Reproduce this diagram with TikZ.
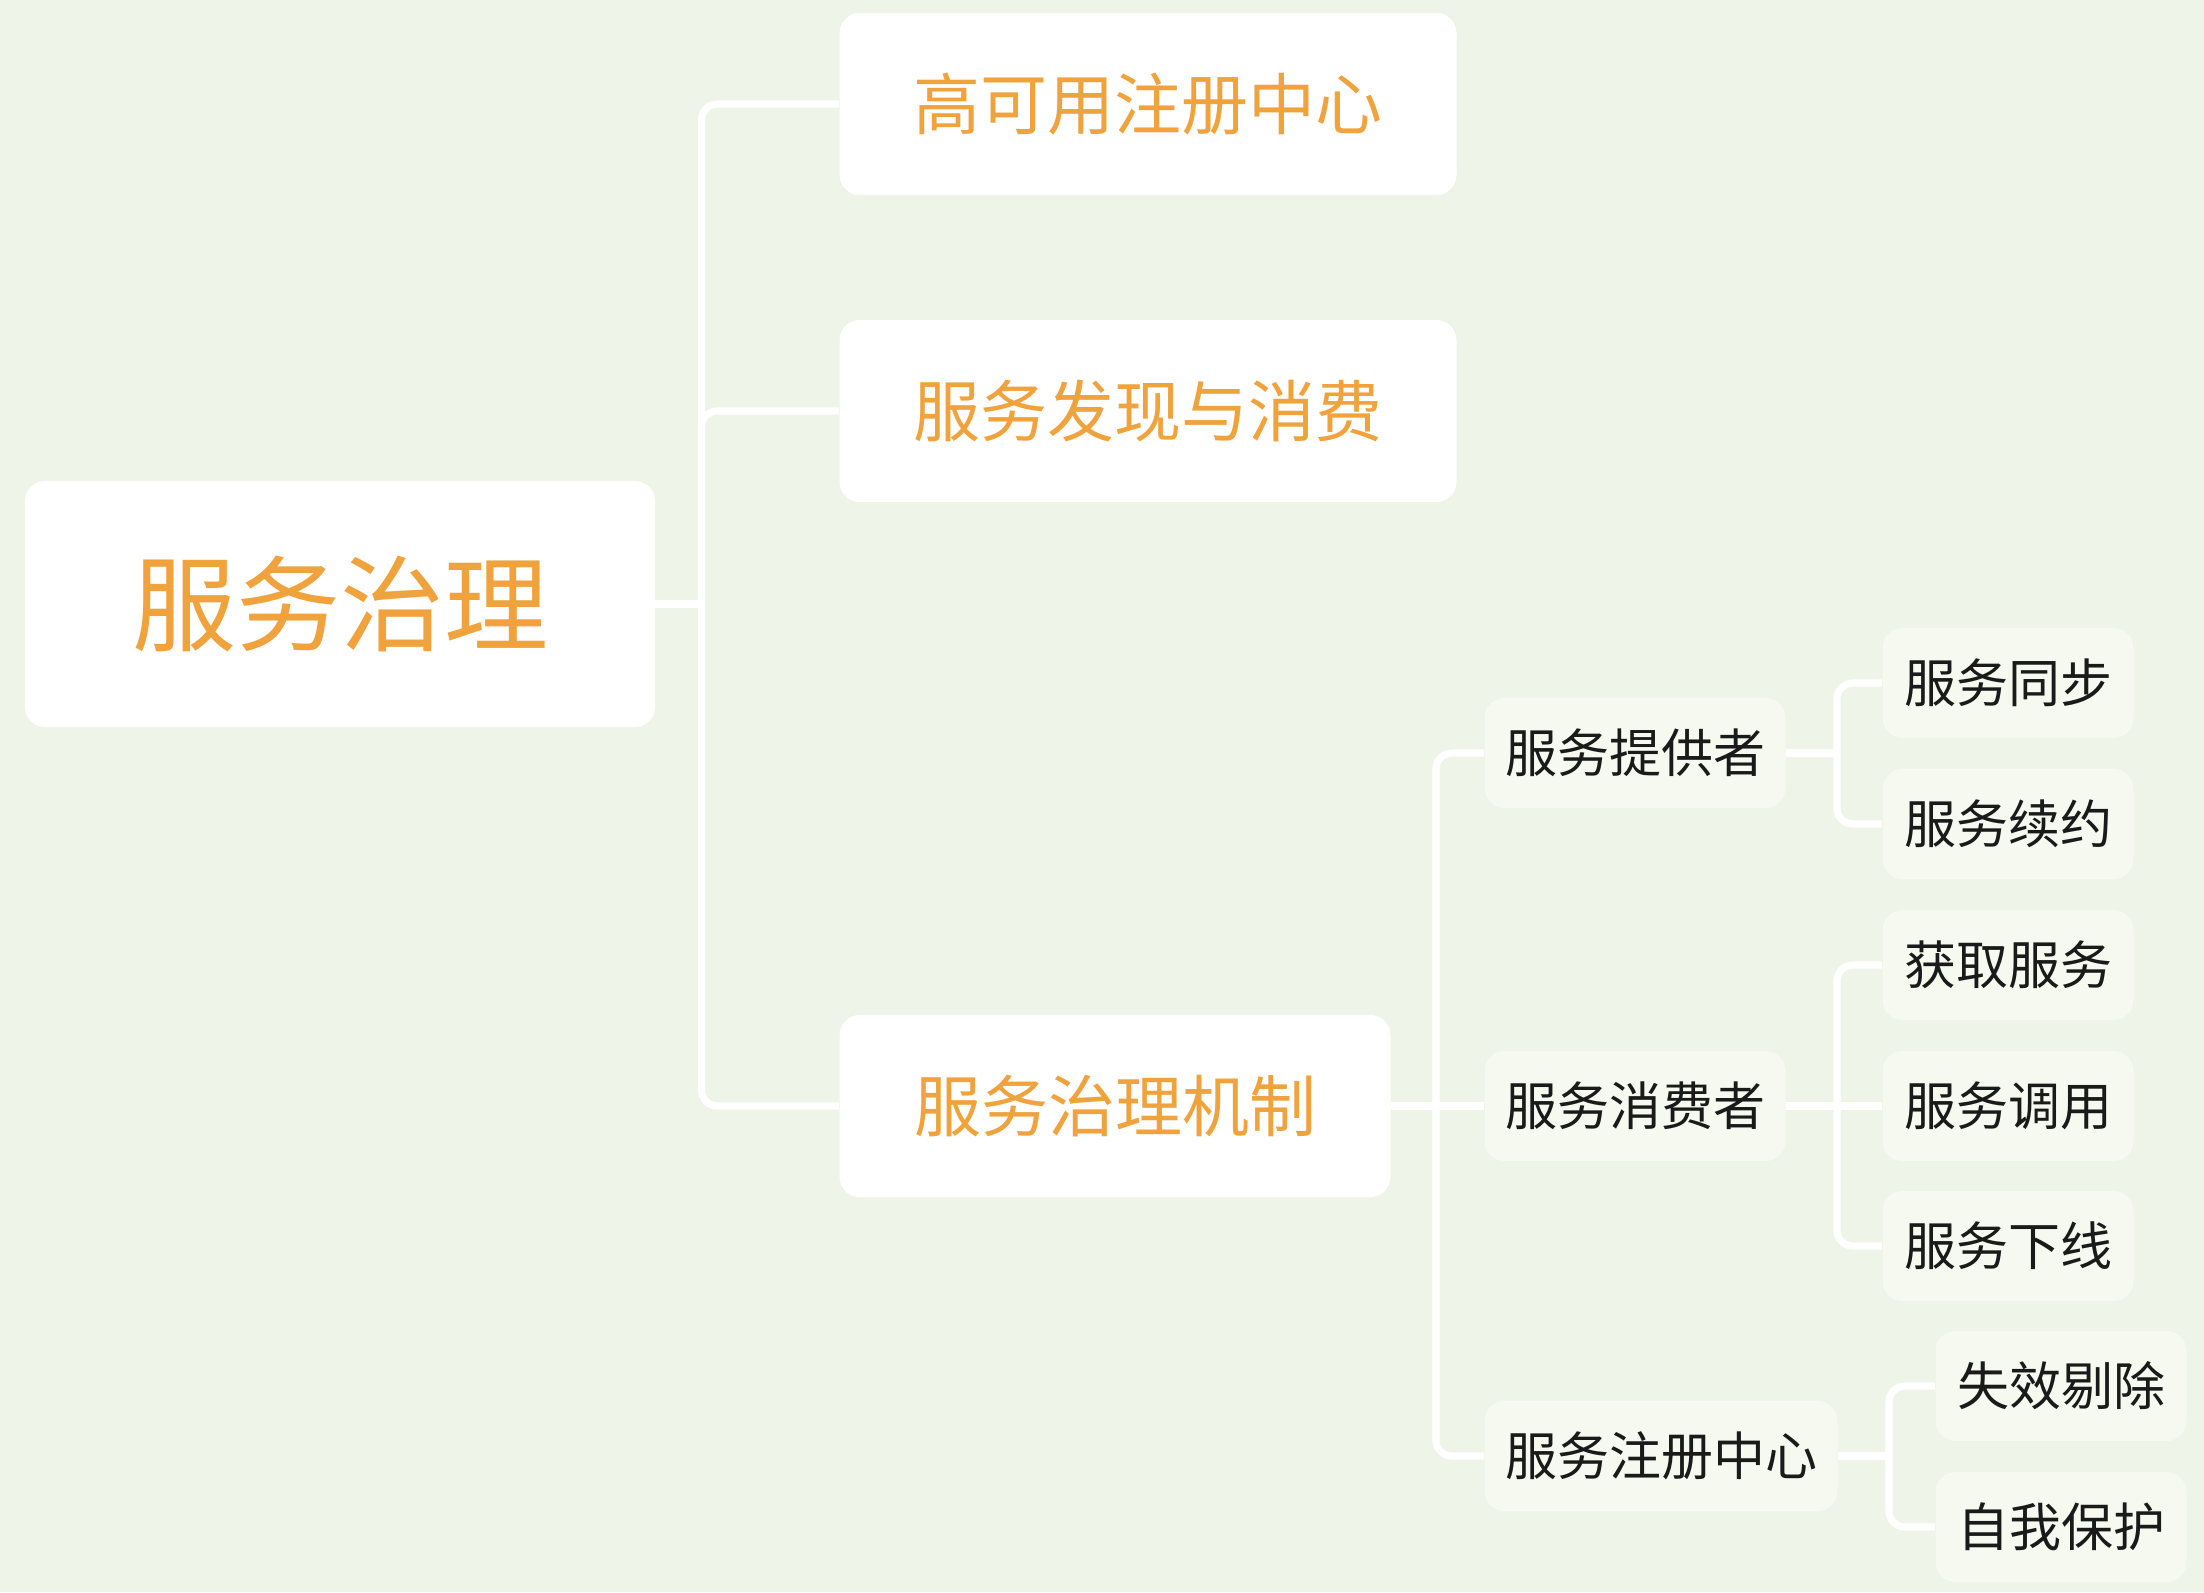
\documentclass[tikz,border=0pt]{standalone}
\usepackage{fontspec}
\setmainfont{Noto Sans CJK SC}
\usepackage{tikz}
\definecolor{bgcol}{RGB}{238,244,232}
\definecolor{subcol}{RGB}{246,249,240}
\definecolor{orangetxt}{RGB}{240,162,60}
\definecolor{darktxt}{RGB}{26,26,26}

\begin{document}
\begin{tikzpicture}
[every node/.style={inner sep=0pt},
 rootbox/.style={rectangle, rounded corners=10pt, fill=white, minimum width=315pt, minimum height=123pt, text=orangetxt, font=\fontsize{52}{60}\selectfont},
 topicbox/.style={rectangle, rounded corners=10pt, fill=white, minimum height=91pt, text=orangetxt, font=\fontsize{33.5}{40}\selectfont},
 subbox/.style={rectangle, rounded corners=10pt, fill=subcol, minimum height=55pt, text=darktxt, font=\fontsize{26}{32}\selectfont},
 link/.style={line width=3.6pt, draw=white, rounded corners=8pt}]
\fill [bgcol] (0pt, 0pt) rectangle (1102pt, -796pt);
\useasboundingbox (0pt, 0pt) rectangle (1102pt, -796pt);
\node (1) [rootbox] at (170pt, -302pt) {服务治理};
\node (2) [topicbox, minimum width=308.5pt] at (574pt, -52pt) {高可用注册中心};
\node (3) [topicbox, minimum width=308.5pt] at (574pt, -205.5pt) {服务发现与消费};
\node (4) [topicbox, minimum width=275.5pt] at (557.5pt, -553pt) {服务治理机制};
\node (5) [subbox, minimum width=150.5pt] at (817.5pt, -376.5pt) {服务提供者};
\node (6) [subbox, minimum width=150.5pt] at (817.5pt, -553pt) {服务消费者};
\node (7) [subbox, minimum width=176.5pt] at (830.5pt, -728pt) {服务注册中心};
\node (8) [subbox, minimum width=125.5pt] at (1004pt, -341.5pt) {服务同步};
\node (9) [subbox, minimum width=125.5pt] at (1004pt, -412pt) {服务续约};
\node (10) [subbox, minimum width=125.5pt] at (1004pt, -482.5pt) {获取服务};
\node (11) [subbox, minimum width=125.5pt] at (1004pt, -553pt) {服务调用};
\node (12) [subbox, minimum width=125.5pt] at (1004pt, -623pt) {服务下线};
\node (13) [subbox, minimum width=125.5pt] at (1030.5pt, -693pt) {失效剔除};
\node (14) [subbox, minimum width=125.5pt] at (1030.5pt, -763.5pt) {自我保护};
\draw [link] (1.east) -- ++(23pt, 0) coordinate (1t);
\draw [link] (1t) |- (2.west);
\draw [link] (1t) |- (3.west);
\draw [link] (1t) |- (4.west);
\draw [link] (4.east) -- (6.west);
\path (4.east) -- ++(22.5pt, 0) coordinate (4t);
\draw [link] (4t) |- (5.west);
\draw [link] (4t) |- (7.west);
\draw [link] (5.east) -- ++(25.5pt, 0) coordinate (5t);
\draw [link] (5t) |- (8.west);
\draw [link] (5t) |- (9.west);
\draw [link] (6.east) -- (11.west);
\path (6.east) -- ++(25.5pt, 0) coordinate (6t);
\draw [link] (6t) |- (10.west);
\draw [link] (6t) |- (12.west);
\draw [link] (7.east) -- ++(25.5pt, 0) coordinate (7t);
\draw [link] (7t) |- (13.west);
\draw [link] (7t) |- (14.west);
\end{tikzpicture}
\end{document}
